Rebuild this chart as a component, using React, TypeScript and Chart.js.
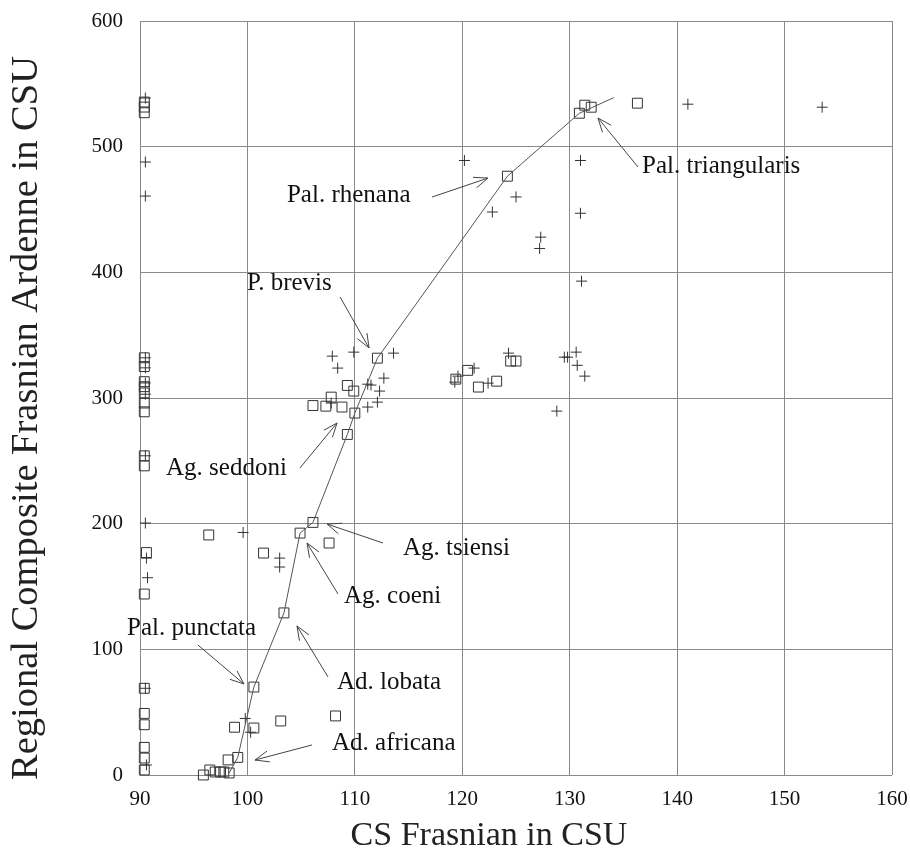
import React, { useEffect, useRef } from "react";
import { Chart, registerables } from "chart.js";

Chart.register(...registerables);

// ---- data ----
const xTicks = [90, 100, 110, 120, 130, 140, 150, 160];
const yTicks = [0, 100, 200, 300, 400, 500, 600];

const squareX = [
  90.4, 90.4, 90.4, 90.4, 90.4, 90.4, 90.4, 90.4, 90.4, 90.4, 90.4, 90.4, 90.6, 90.4, 90.4, 90.4, 90.4, 90.4, 90.4, 90.4,
  96.4, 101.5, 100.6, 98.8, 100.6, 99.1, 98.2, 95.9, 96.5, 97, 97.5, 97.8, 98.3, 103.4, 104.9, 106.1, 107.6, 103.1, 108.2,
  112.1, 109.3, 109.9, 107.8, 106.1, 107.3, 108.8, 110, 109.3,
  120.5, 119.4, 121.5, 123.2, 124.5, 125,
  124.2, 130.9, 131.4, 132, 136.3,
];
const squareY = [
  535.5, 531.5, 527, 332, 325, 313, 309, 304, 296, 289, 254, 246, 177, 144, 69, 49, 40, 22, 13.5, 4,
  191, 176.6, 70, 38, 37.4, 14, 12, 0, 4, 2.4, 2.4, 2.4, 1.6, 129, 192.5, 201, 184.6, 43, 47,
  331.7, 310, 305.5, 300.7, 294, 293.5, 292.8, 288, 271,
  322, 315, 308.7, 313.4, 329.4, 329.4,
  476.5, 526.6, 533, 531.4, 534.6,
];

const crossX = [
  90.5, 90.5, 90.5, 90.5, 90.5, 90.5, 90.5, 90.5, 90.5, 90.6, 90.7, 90.5, 90.6,
  99.6, 103, 103, 99.8, 100.3,
  107.9, 109.9, 113.6, 108.4, 112.7, 111.2, 111.5, 112.3, 112.1, 111.2, 107.8,
  119.3, 119.6, 121.1, 122.4, 124.3,
  120.2, 131, 125, 122.8, 131, 127.3, 127.2, 131.1,
  129.5, 129.8, 130.6, 130.7, 131.4, 128.8,
  141, 153.5,
];
const crossY = [
  538.7, 487.8, 460.7, 332, 324, 312, 303, 254, 200.5, 172.6, 157, 69, 8,
  193, 172.6, 165.5, 45, 34,
  333.3, 336.5, 335.7, 323.8, 315.8, 311, 310.3, 305.5, 296.7, 292.8, 296,
  312.6, 317.4, 323.8, 311.8, 335.7,
  489, 489, 460, 448, 447, 428, 419, 393,
  332.5, 332.5, 336.5, 326, 317.4, 289.6,
  533.8, 531.4,
];

const lineX = [98.3, 99.1, 100.6, 103.4, 104.9, 106.1, 109.3, 110, 112.1, 124.2, 130.9, 134.1];
const lineY = [1.5, 14, 70, 129, 192.5, 201, 271, 288, 331.7, 476.5, 526.6, 539];

// labels: text, anchor (left, baseline) and arrow (from -> to), in data units
const labelText = [
  "Pal. triangularis", "Pal. rhenana", "P. brevis", "Ag. seddoni", "Ag. tsiensi",
  "Ag. coeni", "Pal. punctata", "Ad. lobata", "Ad. africana",
];
const labelX = [136.73, 103.68, 99.96, 92.42, 114.48, 108.99, 88.79, 108.34, 107.87];
const labelY = [479.0, 456.0, 385.9, 238.7, 175.1, 136.9, 111.4, 68.4, 19.9];
const arrowFromX = [136.36, 117.18, 108.62, 104.89, 112.62, 108.43, 95.4, 107.5, 106.01];
const arrowFromY = [483.8, 459.9, 380.4, 244.3, 184.6, 144.0, 103.4, 78.0, 23.9];
const arrowToX = [132.63, 122.39, 111.32, 108.34, 107.41, 105.55, 99.68, 104.61, 100.7];
const arrowToY = [522.8, 475.0, 339.8, 280.1, 199.7, 184.6, 72.4, 118.6, 11.9];

const xTitle = "CS Frasnian in CSU";
const yTitle = "Regional Composite Frasnian Ardenne in CSU";

const FONT = "'Liberation Serif', 'Times New Roman', serif";
const INK = "#333";

const zip = (xs: number[], ys: number[]) => xs.map((x, i) => ({ x, y: ys[i] }));

const annotationPlugin = {
  id: "annotations",
  afterDatasetsDraw(chart: any) {
    const { ctx, scales } = chart;
    const sx = scales.x;
    const sy = scales.y;
    ctx.save();
    ctx.strokeStyle = "#444";
    ctx.lineWidth = 1;
    ctx.fillStyle = "#111";
    ctx.font = `25px ${FONT}`;
    ctx.textAlign = "left";
    ctx.textBaseline = "alphabetic";
    labelText.forEach((t, i) => {
      ctx.fillText(t, sx.getPixelForValue(labelX[i]), sy.getPixelForValue(labelY[i]));
      const x1 = sx.getPixelForValue(arrowFromX[i]);
      const y1 = sy.getPixelForValue(arrowFromY[i]);
      const x2 = sx.getPixelForValue(arrowToX[i]);
      const y2 = sy.getPixelForValue(arrowToY[i]);
      ctx.beginPath();
      ctx.moveTo(x1, y1);
      ctx.lineTo(x2, y2);
      const a = Math.atan2(y2 - y1, x2 - x1);
      const L = 15;
      const w = 0.38;
      ctx.moveTo(x2 - L * Math.cos(a - w), y2 - L * Math.sin(a - w));
      ctx.lineTo(x2, y2);
      ctx.lineTo(x2 - L * Math.cos(a + w), y2 - L * Math.sin(a + w));
      ctx.stroke();
    });
    // axis titles
    ctx.fillStyle = "#222";
    ctx.textAlign = "center";
    ctx.textBaseline = "middle";
    ctx.font = `34px ${FONT}`;
    ctx.fillText(xTitle, 489, 836);
    ctx.save();
    ctx.translate(27, 418);
    ctx.rotate(-Math.PI / 2);
    ctx.font = `38.5px ${FONT}`;
    ctx.fillText(yTitle, 0, 0);
    ctx.restore();
    ctx.restore();
  },
};

export default function App() {
  const ref = useRef<HTMLCanvasElement | null>(null);
  useEffect(() => {
    if (!ref.current) return;
    const chart = new Chart(ref.current, {
      type: "scatter",
      data: {
        datasets: [
          {
            type: "line",
            data: zip(lineX, lineY),
            borderColor: "#555",
            borderWidth: 1,
            pointRadius: 0,
            fill: false,
            tension: 0,
            clip: false,
          } as any,
          {
            data: zip(squareX, squareY),
            pointStyle: "rect",
            pointRadius: 7,
            borderColor: INK,
            borderWidth: 1,
            backgroundColor: "rgba(0,0,0,0)",
            clip: false,
          } as any,
          {
            data: zip(crossX, crossY),
            pointStyle: "cross",
            pointRadius: 5.5,
            borderColor: INK,
            borderWidth: 1,
            clip: false,
          } as any,
        ],
      },
      options: {
        animation: false,
        responsive: true,
        maintainAspectRatio: false,
        layout: { padding: { left: 0, right: 18, top: 21, bottom: 0 } },
        plugins: { legend: { display: false }, tooltip: { enabled: false } },
        scales: {
          x: {
            type: "linear",
            min: 90,
            max: 160,
            afterFit: (s: any) => {
              s.height = 78;
              s.paddingLeft = 0;
              s.paddingRight = 0;
            },
            afterBuildTicks: (s: any) => { s.ticks = xTicks.map((v) => ({ value: v })); },
            grid: { color: "#8a8a8a", lineWidth: 1, drawTicks: false },
            border: { display: false },
            ticks: { color: "#111", font: { family: FONT, size: 21 }, padding: 12, maxRotation: 0 },
          },
          y: {
            type: "linear",
            min: 0,
            max: 600,
            afterFit: (s: any) => {
              s.width = 140;
              s.paddingTop = 0;
              s.paddingBottom = 0;
            },
            afterBuildTicks: (s: any) => { s.ticks = yTicks.map((v) => ({ value: v })); },
            grid: { color: "#8a8a8a", lineWidth: 1, drawTicks: false },
            border: { display: false },
            ticks: { color: "#111", font: { family: FONT, size: 21 }, padding: 17 },
          },
        },
      },
      plugins: [annotationPlugin],
    });
    return () => chart.destroy();
  }, []);
  return (
    <div style={{ position: "fixed", left: 0, top: 0, width: 910, height: 853, background: "#fff" }}>
      <canvas ref={ref} />
    </div>
  );
}
